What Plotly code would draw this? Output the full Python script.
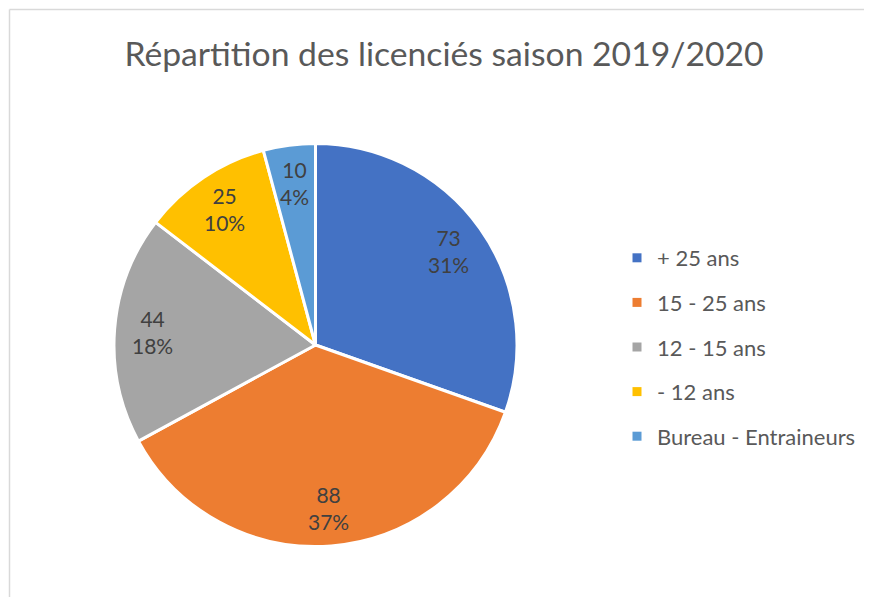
import math
import plotly.graph_objects as go

# ---- data ----
categories = ["+ 25 ans", "15 - 25 ans", "12 - 15 ans", "- 12 ans", "Bureau - Entraineurs"]
values = [73, 88, 44, 25, 10]
pct_labels = ["31%", "37%", "18%", "10%", "4%"]
colors = ["#4472C4", "#ED7D31", "#A5A5A5", "#FFC000", "#5B9BD5"]
title_text = "Répartition des licenciés saison 2019/2020"

# page body has an 8px margin on every side; keep the figure inside it
OFF = 8
W, H = 872 - 2 * OFF, 605 - 2 * OFF
FONT = "Lato, 'Open Sans', sans-serif"

# pie geometry (figure pixels)
cx, cy, R = 315.5 - OFF, 345.0 - OFF, 201.5
LABEL_R = 0.81

fig = go.Figure()
fig.add_trace(go.Pie(
    labels=categories,
    values=values,
    textinfo="none",
    sort=False,
    direction="clockwise",
    rotation=0,
    marker=dict(colors=colors, line=dict(color="white", width=3)),
    showlegend=False,
    hoverinfo="label+value+percent",
    domain=dict(x=[(cx - R) / W, (cx + R) / W], y=[1 - (cy + R) / H, 1 - (cy - R) / H]),
))

# data labels placed at the middle angle of each slice
total = sum(values)
annotations = []
cum = 0
for v, p in zip(values, pct_labels):
    ang = 2 * math.pi * (cum + v / 2) / total
    cum += v
    px = cx + LABEL_R * R * math.sin(ang)
    py = cy - LABEL_R * R * math.cos(ang)
    annotations.append(dict(
        x=px / W, y=1 - py / H, xref="paper", yref="paper",
        text=f"{v}<br>{p}", showarrow=False, xanchor="center", yanchor="middle",
        font=dict(family=FONT, size=21, color="#404040"),
    ))

# legend entries (one group each so spacing can be set)
for cat, col in zip(categories, colors):
    fig.add_trace(go.Scatter(
        x=[None], y=[None], mode="markers", name=cat,
        marker=dict(symbol="square", size=9, color=col),
        legendgroup=cat, showlegend=True, hoverinfo="skip",
    ))

bx = (9.5 - OFF) / W
by = 1 - (9.5 - OFF) / H
fig.update_layout(
    width=W, height=H,
    margin=dict(l=0, r=0, t=0, b=0),
    paper_bgcolor="white", plot_bgcolor="white",
    xaxis=dict(visible=False), yaxis=dict(visible=False),
    title=dict(text=title_text, x=(444 - OFF) / W, xanchor="center", y=1 - (54 - OFF) / H,
               yanchor="middle", yref="container", xref="container",
               font=dict(family=FONT, size=33.7, color="#595959")),
    legend=dict(x=(617 - OFF) / W, xanchor="left", y=1 - (237 - OFF) / H, yanchor="top",
                traceorder="grouped", tracegroupgap=13,
                font=dict(family=FONT, size=22, color="#595959"),
                bgcolor="rgba(0,0,0,0)"),
    annotations=annotations,
    shapes=[
        dict(type="line", xref="paper", yref="paper", x0=bx, x1=1, y0=by, y1=by,
             line=dict(color="#D9D9D9", width=1.5), layer="below"),
        dict(type="line", xref="paper", yref="paper", x0=bx, x1=bx, y0=0, y1=by,
             line=dict(color="#D9D9D9", width=1.5), layer="below"),
    ],
)

fig.write_html("out.html")
